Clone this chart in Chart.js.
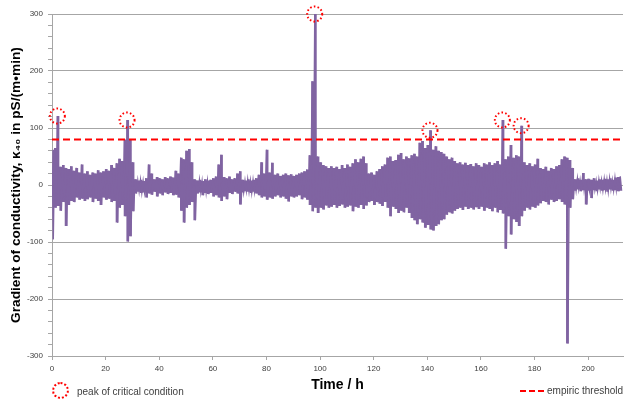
<!DOCTYPE html>
<html>
<head>
<meta charset="utf-8">
<script src="https://cdn.jsdelivr.net/npm/chart.js@4/dist/chart.umd.min.js"></script>
<style>
  body { margin: 0; background: #fff; }
  #wrap { position: relative; width: 624px; height: 399px; font-family: "Liberation Sans", Arial, sans-serif; }
  .lg { position: absolute; font-size: 10px; color: #404040; white-space: nowrap; line-height: 12px; }
  #peakMark { position: absolute; left: 52px; top: 382px; width: 13px; height: 13px; border: 2px dotted #ff0000; border-radius: 50%; }
  #threshMark { position: absolute; left: 520px; top: 390px; width: 25px; height: 2px;
    background: repeating-linear-gradient(90deg, #ff0000 0 6px, transparent 6px 9px); }
</style>
</head>
<body>
<div id="wrap">
  <canvas id="chart" width="624" height="399"></canvas>
  <div id="peakMark"></div>
  <div class="lg" style="left:77px; top:386px;">peak of critical condition</div>
  <div id="threshMark"></div>
  <div class="lg" style="left:547px; top:385px;">empiric threshold</div>
</div>
<script>
// signal envelope, one upper and one lower reading per hour (pS/(m*min))
let upper = [
  62, 65, 121, 32, 35, 30, 28, 33, 25, 30,
  22, 36, 20, 24, 18, 22, 20, 26, 22, 24,
  28, 25, 35, 30, 38, 46, 42, 80, 114, 80,
  40, 10, 8, 9, 7, 12, 36, 20, 10, 14,
  12, 10, 14, 12, 15, 13, 25, 20, 48, 45,
  60, 63, 40, 10, 8, 9, 7, 10, 8, 9,
  12, 15, 36, 53, 14, 12, 15, 10, 12, 20,
  24, 9, 8, 10, 8, 9, 12, 18, 40, 20,
  62, 22, 39, 18, 20, 16, 18, 20, 17, 19,
  16, 18, 20, 22, 24, 27, 52, 182, 300, 50,
  40, 35, 33, 30, 33, 30, 32, 28, 35, 30,
  36, 32, 38, 45, 40, 46, 50, 38, 20, 22,
  18, 24, 28, 33, 36, 48, 50, 42, 44, 53,
  56, 45, 50, 47, 52, 55, 50, 74, 77, 65,
  70, 96, 62, 68, 60, 58, 55, 50, 45, 48,
  42, 38, 40, 36, 39, 35, 37, 33, 38, 35,
  32, 38, 36, 40, 35, 38, 42, 36, 114, 45,
  50, 70, 48, 52, 50, 104, 40, 35, 38, 33,
  36, 46, 30, 28, 32, 25, 30, 28, 33, 35,
  45, 50, 48, 44, 30, 10, 12, 9, 21, 10,
  11, 9, 12, 8, 10, 9, 11, 10, 12, 9,
  13, 14, 15
];
let lower = [
  -95, -40, -37, -45, -30, -72, -35, -28, -30, -22,
  -26, -24, -28, -25, -22, -30, -24, -28, -35, -22,
  -26, -24, -30, -28, -66, -40, -35, -55, -99, -90,
  -46, -15, -12, -14, -13, -22, -15, -17, -12, -20,
  -15, -18, -13, -16, -14, -18, -17, -22, -45, -66,
  -40, -35, -30, -62, -15, -13, -18, -14, -16, -14,
  -20, -18, -22, -28, -20, -25, -14, -16, -12, -15,
  -34, -13, -11, -12, -14, -12, -15, -18, -22, -20,
  -26, -22, -24, -20, -18, -22, -20, -24, -29, -20,
  -22, -20, -18, -25, -22, -26, -35, -46, -40, -49,
  -40, -43, -36, -40, -38, -35, -40, -37, -34, -40,
  -38, -36, -46, -38, -40, -35, -42, -36, -30, -28,
  -35, -30, -33, -37, -30, -40, -55, -38, -42, -49,
  -45, -48, -40, -49, -58, -62, -69, -60, -66, -75,
  -70, -78, -80, -72, -69, -62, -60, -52, -48, -50,
  -45, -42, -40, -44, -38, -42, -40, -43, -39, -42,
  -38, -45, -40, -42, -46, -40, -48, -44, -50, -112,
  -55, -87, -60, -65, -72, -55, -45, -40, -43, -38,
  -40, -36, -32, -28, -30, -34, -26, -30, -28, -25,
  -30, -34, -278, -40, -25, -10, -8, -11, -9, -34,
  -10, -23, -9, -11, -8, -10, -9, -12, -8, -10,
  -9, -11, -10
];
let hours = upper.map((v, i) => i);

// peaks of critical condition
let peakTimes = [2, 28, 98, 141, 168, 175];
let peakValues = [121, 114, 300, 96, 114, 104];

let threshold = 80;
let timeMax = 213;

// zigzag: upper reading on the hour, lower reading half an hour later
let signal = [];
for (let i = 0; i < hours.length; i++) {
  signal.push({ x: hours[i], y: upper[i] });
  signal.push({ x: hours[i] + 0.5, y: lower[i] });
}
// band between the two readings of each hour
let bandTop = hours.map((t, i) => ({ x: t + 0.25, y: upper[i] }));
let bandBottom = hours.map((t, i) => ({ x: t + 0.25, y: lower[i] }));

let purple = '#8064A2';
let gridGray = '#A6A6A6';
let textGray = '#404040';

// draw the peak circles dotted
const dottedPeaks = {
  id: 'dottedPeaks',
  beforeDatasetDraw(chart, args) {
    if (args.index === 0) { chart.ctx.save(); chart.ctx.setLineDash([1.6, 2.2]); }
  },
  afterDatasetDraw(chart, args) {
    if (args.index === 0) chart.ctx.restore();
  }
};

let ctx = document.getElementById('chart').getContext('2d');
let myChart = new Chart(ctx, {
  type: 'line',
  data: {
    datasets: [
      {
        label: 'peak of critical condition',
        data: peakTimes.map((t, i) => ({ x: t, y: peakValues[i] })),
        showLine: false,
        pointRadius: 7.5,
        pointBorderWidth: 2,
        pointBorderColor: '#ff0000',
        pointBackgroundColor: 'rgba(0,0,0,0)',
        clip: false
      },
      {
        label: 'empiric threshold',
        data: [{ x: 0, y: threshold }, { x: timeMax, y: threshold }],
        borderColor: '#ff0000',
        borderWidth: 2,
        borderDash: [7, 4],
        pointRadius: 0
      },
      {
        label: 'gradient',
        data: signal,
        borderColor: purple,
        borderWidth: 1.3,
        pointRadius: 0,
        tension: 0
      },
      {
        label: 'band top',
        data: bandTop,
        stepped: 'middle',
        borderWidth: 0,
        borderColor: 'rgba(0,0,0,0)',
        backgroundColor: purple,
        fill: '+1',
        pointRadius: 0
      },
      {
        label: 'band bottom',
        data: bandBottom,
        stepped: 'middle',
        borderWidth: 0,
        borderColor: 'rgba(0,0,0,0)',
        pointRadius: 0
      }
    ]
  },
  options: {
    responsive: false,
    animation: false,
    devicePixelRatio: 1,
    layout: { autoPadding: false, padding: { top: 14, right: 1, left: 0, bottom: 0 } },
    plugins: {
      legend: { display: false },
      tooltip: { enabled: false }
    },
    scales: {
      x: {
        type: 'linear',
        min: 0,
        max: timeMax,
        afterBuildTicks: s => { s.ticks = s.ticks.filter(t => t.value % 20 === 0); },
        afterFit: s => { s.height = 43; },
        ticks: { stepSize: 20, padding: 4, color: textGray, font: { family: 'Liberation Sans', size: 8 }, maxRotation: 0 },
        grid: { drawOnChartArea: false, tickLength: 4, tickColor: gridGray },
        border: { color: gridGray },
        title: {
          display: true,
          text: 'Time / h',
          color: '#000',
          font: { family: 'Liberation Sans', size: 14, weight: 'bold' },
          padding: { top: 0, bottom: 5 }
        }
      },
      y: {
        min: -300,
        max: 300,
        afterFit: s => { s.width = 52; },
        ticks: {
          stepSize: 20,
          autoSkip: false,
          padding: 5,
          color: textGray,
          font: { family: 'Liberation Sans', size: 8 },
          callback: v => (v % 100 === 0 ? v : '')
        },
        grid: {
          color: c => (c.tick && c.tick.value % 100 === 0 ? gridGray : 'rgba(0,0,0,0)'),
          tickColor: gridGray,
          tickLength: 4
        },
        border: { color: gridGray },
        title: {
          display: true,
          text: 'Gradient of conductivity, \u03BA\u2084\u2080 in pS/(m\u2022min)',
          color: '#000',
          font: { family: 'Liberation Sans', size: 13.7, weight: 'bold' },
          padding: { top: 8, bottom: 0 }
        }
      }
    }
  },
  plugins: [dottedPeaks]
});
</script>
</body>
</html>
